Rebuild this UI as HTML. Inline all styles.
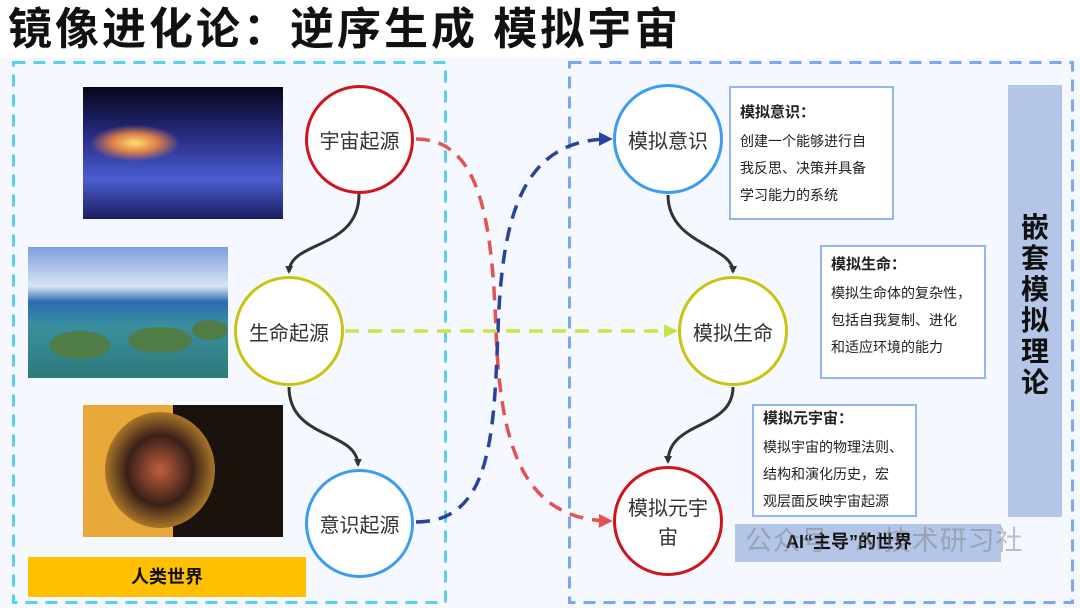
<!DOCTYPE html>
<html><head><meta charset="utf-8"><style>
body{margin:0;width:1080px;height:608px;background:#fff;position:relative;overflow:hidden;font-family:"Liberation Sans","Noto Sans CJK SC",sans-serif}
.a{position:absolute}
.title{left:8px;top:2px;font-size:44px;font-weight:bold;color:#111;letter-spacing:3px;line-height:56px}
.bg{left:0;top:58px;width:1080px;height:550px;background:#f5f8fe}
.c{position:absolute;border-radius:50%;background:#fff;display:flex;align-items:center;justify-content:center;text-align:center;font-size:20px;color:#333;box-sizing:border-box;border:3px solid}
.tb{position:absolute;border:2px solid #93b6f2;background:#fff;box-sizing:border-box;padding:12px 0 0 9px;font-size:14px;line-height:27px;color:#222;white-space:nowrap}
.tb b{font-size:15px;display:block;line-height:26px;margin-bottom:2px}
</style></head><body>
<div class="a title">镜像进化论：逆序生成 模拟宇宙</div>
<div class="a bg"></div>
<svg class="a" style="left:0;top:0" width="1080" height="608">
<defs>
<marker id="k" markerWidth="8" markerHeight="8" refX="6" refY="4" orient="auto" markerUnits="userSpaceOnUse" viewBox="0 0 8 8"><path d="M0,0L8,4L0,8z" fill="#333"/></marker>
<marker id="r" viewBox="0 0 10 10" refX="8" refY="5" markerWidth="14" markerHeight="14" orient="auto" markerUnits="userSpaceOnUse"><path d="M0,0L10,5L0,10z" fill="#e45252"/></marker>
<marker id="b" viewBox="0 0 10 10" refX="8" refY="5" markerWidth="14" markerHeight="14" orient="auto" markerUnits="userSpaceOnUse"><path d="M0,0L10,5L0,10z" fill="#2b41a0"/></marker>
<marker id="g" viewBox="0 0 10 10" refX="8" refY="5" markerWidth="14" markerHeight="14" orient="auto" markerUnits="userSpaceOnUse"><path d="M0,0L10,5L0,10z" fill="#c8e448"/></marker>
<linearGradient id="gal" x1="0" y1="0" x2="0" y2="1"><stop offset="0" stop-color="#05061a"/><stop offset=".4" stop-color="#2a2f8a"/><stop offset=".7" stop-color="#4a5ed0"/><stop offset="1" stop-color="#1b1d60"/></linearGradient>
<radialGradient id="core" cx=".5" cy=".5" r=".5"><stop offset="0" stop-color="#ffe070"/><stop offset=".5" stop-color="#e0804a"/><stop offset="1" stop-color="#e0804a" stop-opacity="0"/></radialGradient>
<linearGradient id="sea" x1="0" y1="0" x2="0" y2="1"><stop offset="0" stop-color="#7f9fe0"/><stop offset=".3" stop-color="#d8e4f4"/><stop offset=".42" stop-color="#2d6bb0"/><stop offset=".6" stop-color="#3a8f9e"/><stop offset="1" stop-color="#2d7a7a"/></linearGradient>
<radialGradient id="head" cx=".5" cy=".5" r=".6"><stop offset="0" stop-color="#c06040"/><stop offset=".5" stop-color="#3a2018"/><stop offset="1" stop-color="#e0a030"/></radialGradient>
</defs>
<rect x="13.5" y="62.5" width="432" height="540" fill="none" stroke="#5ad0ea" stroke-width="3" stroke-dasharray="12 8"/>
<rect x="569.5" y="62.5" width="503" height="540" fill="none" stroke="#7da6f2" stroke-width="3" stroke-dasharray="12 8"/>
<rect x="83" y="87" width="200" height="132" fill="url(#gal)"/>
<ellipse cx="135" cy="143" rx="45" ry="18" fill="url(#core)"/>
<rect x="28" y="247" width="200" height="131" fill="url(#sea)"/>
<ellipse cx="80" cy="345" rx="30" ry="14" fill="#4f7d45"/><ellipse cx="160" cy="340" rx="32" ry="13" fill="#4f7d45"/><ellipse cx="210" cy="330" rx="18" ry="10" fill="#4f7d45"/>
<rect x="83" y="405" width="200" height="132" fill="#1a120c"/>
<rect x="83" y="405" width="90" height="132" fill="#e8a83a"/>
<ellipse cx="160" cy="470" rx="55" ry="58" fill="url(#head)"/>
<path d="M359,194 C359,250 290,240 289,272" fill="none" stroke="#333" stroke-width="3" marker-end="url(#k)"/>
<path d="M289,387 C289,440 357,430 358,465" fill="none" stroke="#333" stroke-width="3" marker-end="url(#k)"/>
<path d="M668,195 C668,245 733,245 733,272" fill="none" stroke="#333" stroke-width="3" marker-end="url(#k)"/>
<path d="M733,387 C733,430 668,420 668,462" fill="none" stroke="#333" stroke-width="3" marker-end="url(#k)"/>
<path d="M416,139 C480,139 492,220 496,330 C500,440 520,520 610,521" fill="none" stroke="#e45252" stroke-width="3.5" stroke-dasharray="14 9" marker-end="url(#r)"/>
<path d="M416,522 C490,522 494,440 498,330 C502,220 520,139 610,139" fill="none" stroke="#2b41a0" stroke-width="3.5" stroke-dasharray="14 9" marker-end="url(#b)"/>
<path d="M345,331 L675,331" fill="none" stroke="#c8e448" stroke-width="3.5" stroke-dasharray="14 9" marker-end="url(#g)"/>
</svg>
<div class="c" style="left:305px;top:85px;width:109px;height:109px;border-color:#d0141c">宇宙起源</div>
<div class="c" style="left:234px;top:276px;width:110px;height:110px;border-color:#c8c414">生命起源</div>
<div class="c" style="left:305px;top:469px;width:109px;height:109px;border-color:#3c9cf0">意识起源</div>
<div class="c" style="left:613px;top:84px;width:110px;height:110px;border-color:#3c9cf0">模拟意识</div>
<div class="c" style="left:678px;top:276px;width:110px;height:110px;border-color:#c8c414">模拟生命</div>
<div class="c" style="left:613px;top:466px;width:110px;height:110px;border-color:#d0141c;padding:0 12px">模拟元宇宙</div>
<div class="tb" style="left:729px;top:86px;width:165px;height:134px"><b>模拟意识：</b>创建一个能够进行自<br>我反思、决策并具备<br>学习能力的系统</div>
<div class="tb" style="left:820px;top:245px;width:166px;height:134px;padding-top:5px"><b>模拟生命：</b>模拟生命体的复杂性，<br>包括自我复制、进化<br>和适应环境的能力</div>
<div class="tb" style="left:752px;top:404px;width:165px;height:113px;padding-top:0px;line-height:27px"><b>模拟元宇宙：</b>模拟宇宙的物理法则、<br>结构和演化历史，宏<br>观层面反映宇宙起源</div>
<div class="a" style="left:1008px;top:85px;width:54px;height:432px;background:#b4c6e7"></div>
<div class="a" style="left:1008px;top:212px;width:54px;font-size:28px;font-weight:bold;line-height:31px;text-align:center;color:#111">嵌<br>套<br>模<br>拟<br>理<br>论</div>
<div class="a" style="left:28px;top:557px;width:278px;height:40px;background:#ffc000;font-size:18px;font-weight:bold;line-height:40px;text-align:center;color:#111">人类世界</div>
<div class="a" style="left:735px;top:524px;width:266px;height:38px;background:#b4c6e7"></div>
<div class="a" style="left:786px;top:528px;font-size:18px;font-weight:bold;color:#111;line-height:28px">AI“主导”的世界</div>
<div class="a" style="left:745px;top:524px;font-size:27px;color:rgba(120,120,120,.45);line-height:34px;letter-spacing:1px">公众号 · AI技术研习社</div>
</body></html>
